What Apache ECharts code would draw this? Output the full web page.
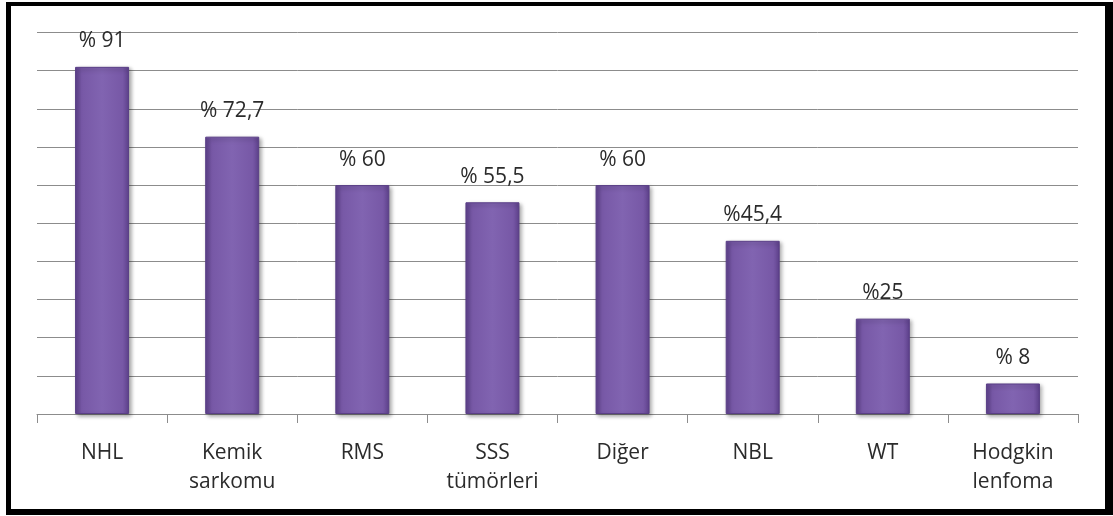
<!DOCTYPE html>
<html>
<head>
<meta charset="utf-8">
<script src="https://cdn.jsdelivr.net/npm/echarts@6/dist/echarts.min.js"></script>
<style>
  html, body { margin: 0; padding: 0; background: #fff; }
  #frame {
    position: absolute; left: 6px; top: 2px;
    width: 1094px; height: 503px;
    border-style: solid; border-color: #000;
    border-width: 4px 8px 6px 5px;
    background: #fff;
  }
  #chart { position: absolute; left: 0; top: 0; width: 1113px; height: 516px; }
</style>
</head>
<body>
<div id="frame"></div>
<div id="chart"></div>
<script>
// Tumour groups along the x axis
const categories = ['NHL', 'Kemik\nsarkomu', 'RMS', 'SSS\ntümörleri', 'Diğer', 'NBL', 'WT', 'Hodgkin\nlenfoma'];
// Percentage per group
const values = [91, 72.7, 60, 55.5, 60, 45.4, 25, 8];
// Prefix written before each percentage label
const labelPrefixes = ['% ', '% ', '% ', '% ', '% ', '%', '%', '% '];

const chart = echarts.init(document.getElementById('chart'), null, { renderer: 'canvas' });

const barFill = new echarts.graphic.LinearGradient(0, 0, 1, 0, [
  { offset: 0, color: '#5e418c' },
  { offset: 0.12, color: '#7758a6' },
  { offset: 0.5, color: '#8164b1' },
  { offset: 0.88, color: '#7758a6' },
  { offset: 1, color: '#5e418c' }
]);

chart.setOption({
  animation: false,
  grid: { left: 37, right: 35, top: 32.5, bottom: 102, containLabel: false },
  xAxis: {
    type: 'category',
    data: categories,
    axisLine: { lineStyle: { color: '#8c8c8c', width: 1 } },
    axisTick: { show: true, length: 9, alignWithLabel: false, lineStyle: { color: '#8c8c8c' } },
    axisLabel: {
      color: '#2b2b2b', fontFamily: 'Open Sans', fontSize: 21,
      lineHeight: 29, margin: 25, interval: 0
    }
  },
  yAxis: {
    type: 'value',
    min: 0, max: 100, interval: 10,
    axisLine: { show: false },
    axisTick: { show: false },
    axisLabel: { show: false },
    splitLine: { lineStyle: { color: '#8c8c8c', width: 1 } }
  },
  series: [{
    type: 'bar',
    data: values,
    barWidth: 54,
    itemStyle: {
      color: barFill,
      borderColor: '#5a3f87',
      borderWidth: 1,
      shadowColor: 'rgba(0,0,0,0.35)',
      shadowBlur: 4,
      shadowOffsetX: 2,
      shadowOffsetY: 2
    },
    label: {
      show: true,
      position: 'top',
      distance: 15,
      color: '#2b2b2b',
      fontFamily: 'Open Sans',
      fontSize: 21,
      formatter: p => labelPrefixes[p.dataIndex] + String(p.value).replace('.', ',')
    }
  }]
});
</script>
</body>
</html>
